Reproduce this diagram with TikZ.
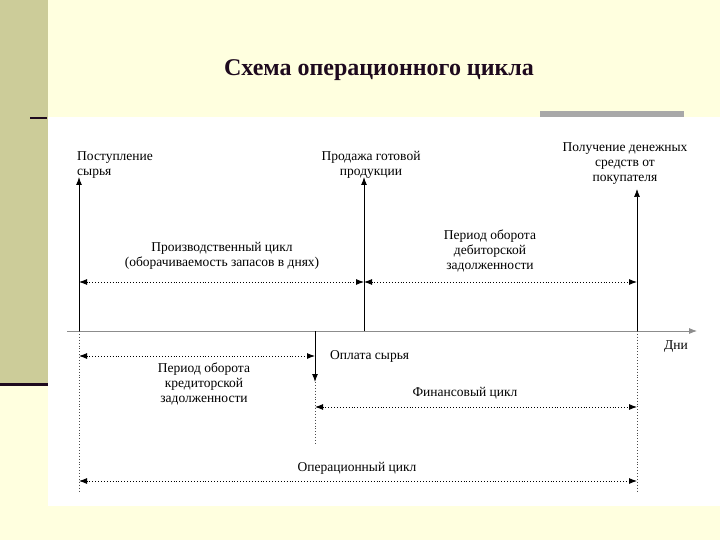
\documentclass[tikz,border=0pt]{standalone}
\usepackage{fontspec}
\setmainfont{Liberation Serif}
\usetikzlibrary{arrows.meta, positioning, calc}
\definecolor{slidebg}{HTML}{FFFFDF}
\definecolor{slideband}{HTML}{CCCC99}
\definecolor{slidebar}{HTML}{A8A8A8}
\definecolor{titlecol}{HTML}{1E0A1E}
\tikzset{
    lbl/.style={align=center, font=\fontsize{13.5}{15}\selectfont, inner sep=1pt},
    event/.style={-{Latex[length=8pt,width=6pt]}, line width=1pt},
    span/.style={{Latex[length=8pt,width=6pt]}-{Latex[length=8pt,width=6pt]}, dotted, line width=0.9pt},
    guide/.style={dotted, line width=0.9pt, draw=black!70},
    axisline/.style={-{Latex[length=8pt,width=6pt]}, line width=0.8pt, draw=black!45}
}

\begin{document}
\begin{tikzpicture}[x=1pt, y=-1pt]
  \useasboundingbox (0,0) rectangle (720,540);
  % slide background
  \fill[slidebg] (0,0) rectangle (720,540);
  \fill[slideband] (0,0) rectangle (48,383);
  \fill[titlecol] (0,383) rectangle (48,386);
  \fill[white] (48,117) rectangle (720,506);
  \fill[slidebar] (540,111) rectangle (684,117);
  \draw[line width=2pt, titlecol] (30,118) -- (47,118);
  \node[font=\bfseries\fontsize{24}{28}\selectfont, text=titlecol] (title) at (379,70) {Схема операционного цикла};

  % time axis
  \coordinate (a0) at (67,331);
  \coordinate (a1) at (697,331);
  \draw[axisline] (a0) -- (a1);
  \node[lbl, anchor=north east] (days) at (689,339) {Дни};

  % events on the axis
  \coordinate (t0) at (79,331);
  \coordinate (t1) at (364,331);
  \coordinate (t2) at (637,331);
  \coordinate (tp) at (315,331);
  \coordinate (t0up) at (79,177);
  \coordinate (t1up) at (364,177);
  \coordinate (t2up) at (637,189);
  \coordinate (tpdn) at (315,382);
  \draw[event] (t0) -- (t0up);
  \draw[event] (t1) -- (t1up);
  \draw[event, line width=0.7pt] (t2) -- (t2up);
  \draw[event] (tp) -- (tpdn);

  \node[lbl, align=left, anchor=south west] (raw) at (76,180) {Поступление\\сырья};
  \node[lbl, anchor=south] (sale) at (371,180) {Продажа готовой\\продукции};
  \node[lbl, anchor=south] (cash) at (625,186) {Получение денежных\\средств от\\покупателя};
  \node[lbl, anchor=west] (pay) at (329,356) {Оплата сырья};

  % guides below the axis
  \coordinate (g0) at (79,492);
  \coordinate (g2) at (637,492);
  \coordinate (gp) at (315,444);
  \draw[guide] (t0) -- (g0);
  \draw[guide] (t2) -- (g2);
  \draw[guide] (tpdn) -- (gp);

  % periods
  \draw[span] (79,282) -- (364,282);
  \draw[span] (364,282) -- (637,282);
  \draw[span] (79,356) -- (315,356);
  \draw[span] (315,407) -- (637,407);
  \draw[span] (79,481) -- (637,481);

  \node[lbl, anchor=south] (prod) at (222,271) {Производственный цикл\\(оборачиваемость запасов в днях)};
  \node[lbl, anchor=south] (recv) at (490,273) {Период оборота\\дебиторской\\задолженности};
  \node[lbl, anchor=north] (cred) at (204,362) {Период оборота\\кредиторской\\задолженности};
  \node[lbl] (fin) at (465,393) {Финансовый цикл};
  \node[lbl] (oper) at (357,468) {Операционный цикл};
\end{tikzpicture}
\end{document}
